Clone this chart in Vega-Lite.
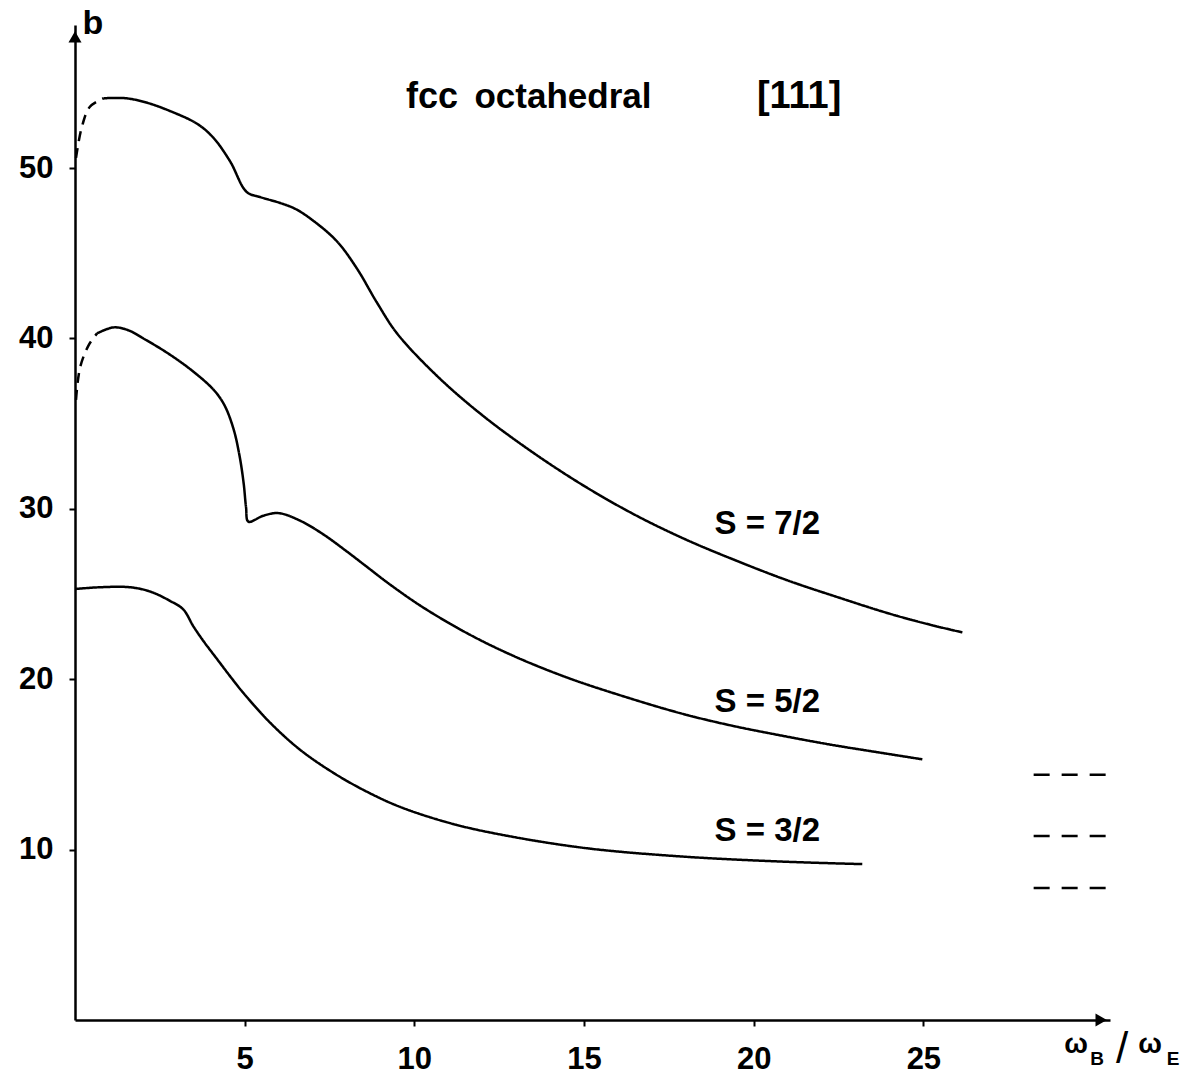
{
  "$schema": "https://vega.github.io/schema/vega-lite/v6.json",
  "width": 1035,
  "height": 995,
  "autosize": "none",
  "padding": {"left": 75, "top": 25, "right": 87, "bottom": 57},
  "background": "white",
  "config": {
    "view": {"stroke": null},
    "font": "Liberation Sans",
    "axis": {
      "domainColor": "black", "domainWidth": 2.5,
      "tickColor": "black", "tickWidth": 2, "tickSize": 6,
      "labelFont": "Liberation Sans", "labelFontSize": 31, "labelFontWeight": "bold", "labelColor": "black",
      "grid": false, "title": null
    }
  },
  "datasets": {
    "curves": [
      {"S": "7/2", "part": "dashed", "x": 0.03, "b": 50.6},
      {"S": "7/2", "part": "dashed", "x": 0.2, "b": 52.4},
      {"S": "7/2", "part": "dashed", "x": 0.44, "b": 53.6},
      {"S": "7/2", "part": "dashed", "x": 0.85, "b": 54.1},
      {"S": "7/2", "part": "solid", "x": 0.85, "b": 54.1},
      {"S": "7/2", "part": "solid", "x": 1.5, "b": 54.1},
      {"S": "7/2", "part": "solid", "x": 2.1, "b": 53.85},
      {"S": "7/2", "part": "solid", "x": 2.8, "b": 53.35},
      {"S": "7/2", "part": "solid", "x": 3.6, "b": 52.6},
      {"S": "7/2", "part": "solid", "x": 4.07, "b": 51.8},
      {"S": "7/2", "part": "solid", "x": 4.57, "b": 50.4},
      {"S": "7/2", "part": "solid", "x": 5.06, "b": 48.6},
      {"S": "7/2", "part": "solid", "x": 5.46, "b": 48.3},
      {"S": "7/2", "part": "solid", "x": 6.05, "b": 47.95},
      {"S": "7/2", "part": "solid", "x": 6.5, "b": 47.6},
      {"S": "7/2", "part": "solid", "x": 7.03, "b": 46.9},
      {"S": "7/2", "part": "solid", "x": 7.72, "b": 45.7},
      {"S": "7/2", "part": "solid", "x": 8.31, "b": 44.1},
      {"S": "7/2", "part": "solid", "x": 8.9, "b": 42.1},
      {"S": "7/2", "part": "solid", "x": 9.49, "b": 40.3},
      {"S": "7/2", "part": "solid", "x": 10.67, "b": 37.8},
      {"S": "7/2", "part": "solid", "x": 12.0, "b": 35.5},
      {"S": "7/2", "part": "solid", "x": 13.5, "b": 33.3},
      {"S": "7/2", "part": "solid", "x": 15.0, "b": 31.35},
      {"S": "7/2", "part": "solid", "x": 16.5, "b": 29.65},
      {"S": "7/2", "part": "solid", "x": 18.0, "b": 28.2},
      {"S": "7/2", "part": "solid", "x": 19.5, "b": 26.95},
      {"S": "7/2", "part": "solid", "x": 21.0, "b": 25.8},
      {"S": "7/2", "part": "solid", "x": 22.5, "b": 24.8},
      {"S": "7/2", "part": "solid", "x": 24.0, "b": 23.85},
      {"S": "7/2", "part": "solid", "x": 25.2, "b": 23.2},
      {"S": "7/2", "part": "solid", "x": 26.15, "b": 22.75},

      {"S": "5/2", "part": "dashed", "x": 0.03, "b": 36.4},
      {"S": "5/2", "part": "dashed", "x": 0.15, "b": 38.3},
      {"S": "5/2", "part": "dashed", "x": 0.4, "b": 39.6},
      {"S": "5/2", "part": "dashed", "x": 0.65, "b": 40.3},
      {"S": "5/2", "part": "solid", "x": 0.65, "b": 40.3},
      {"S": "5/2", "part": "solid", "x": 1.13, "b": 40.65},
      {"S": "5/2", "part": "solid", "x": 1.55, "b": 40.5},
      {"S": "5/2", "part": "solid", "x": 2.06, "b": 39.95},
      {"S": "5/2", "part": "solid", "x": 2.8, "b": 39.05},
      {"S": "5/2", "part": "solid", "x": 3.49, "b": 38.05},
      {"S": "5/2", "part": "solid", "x": 4.08, "b": 37.0},
      {"S": "5/2", "part": "solid", "x": 4.4, "b": 36.1},
      {"S": "5/2", "part": "solid", "x": 4.67, "b": 34.7},
      {"S": "5/2", "part": "solid", "x": 4.85, "b": 33.1},
      {"S": "5/2", "part": "solid", "x": 4.97, "b": 31.5},
      {"S": "5/2", "part": "solid", "x": 5.04, "b": 30.1},
      {"S": "5/2", "part": "solid", "x": 5.11, "b": 29.25},
      {"S": "5/2", "part": "solid", "x": 5.55, "b": 29.6},
      {"S": "5/2", "part": "solid", "x": 6.0, "b": 29.75},
      {"S": "5/2", "part": "solid", "x": 6.64, "b": 29.3},
      {"S": "5/2", "part": "solid", "x": 7.32, "b": 28.5},
      {"S": "5/2", "part": "solid", "x": 8.01, "b": 27.5},
      {"S": "5/2", "part": "solid", "x": 8.6, "b": 26.6},
      {"S": "5/2", "part": "solid", "x": 9.29, "b": 25.55},
      {"S": "5/2", "part": "solid", "x": 10.27, "b": 24.2},
      {"S": "5/2", "part": "solid", "x": 11.65, "b": 22.6},
      {"S": "5/2", "part": "solid", "x": 13.0, "b": 21.3},
      {"S": "5/2", "part": "solid", "x": 14.5, "b": 20.1},
      {"S": "5/2", "part": "solid", "x": 16.0, "b": 19.1},
      {"S": "5/2", "part": "solid", "x": 17.85, "b": 18.0},
      {"S": "5/2", "part": "solid", "x": 19.3, "b": 17.3},
      {"S": "5/2", "part": "solid", "x": 20.8, "b": 16.7},
      {"S": "5/2", "part": "solid", "x": 22.3, "b": 16.15},
      {"S": "5/2", "part": "solid", "x": 23.7, "b": 15.7},
      {"S": "5/2", "part": "solid", "x": 24.97, "b": 15.3},

      {"S": "3/2", "part": "solid", "x": 0.03, "b": 25.3},
      {"S": "3/2", "part": "solid", "x": 0.74, "b": 25.4},
      {"S": "3/2", "part": "solid", "x": 1.62, "b": 25.4},
      {"S": "3/2", "part": "solid", "x": 2.21, "b": 25.15},
      {"S": "3/2", "part": "solid", "x": 2.8, "b": 24.6},
      {"S": "3/2", "part": "solid", "x": 3.19, "b": 24.1},
      {"S": "3/2", "part": "solid", "x": 3.49, "b": 23.1},
      {"S": "3/2", "part": "solid", "x": 3.8, "b": 22.2},
      {"S": "3/2", "part": "solid", "x": 4.18, "b": 21.2},
      {"S": "3/2", "part": "solid", "x": 4.6, "b": 20.1},
      {"S": "3/2", "part": "solid", "x": 4.96, "b": 19.2},
      {"S": "3/2", "part": "solid", "x": 5.75, "b": 17.45},
      {"S": "3/2", "part": "solid", "x": 6.64, "b": 15.85},
      {"S": "3/2", "part": "solid", "x": 7.62, "b": 14.5},
      {"S": "3/2", "part": "solid", "x": 8.6, "b": 13.4},
      {"S": "3/2", "part": "solid", "x": 9.59, "b": 12.5},
      {"S": "3/2", "part": "solid", "x": 11.06, "b": 11.55},
      {"S": "3/2", "part": "solid", "x": 12.5, "b": 10.9},
      {"S": "3/2", "part": "solid", "x": 15.0, "b": 10.1},
      {"S": "3/2", "part": "solid", "x": 17.85, "b": 9.6},
      {"S": "3/2", "part": "solid", "x": 20.8, "b": 9.3},
      {"S": "3/2", "part": "solid", "x": 23.2, "b": 9.15}
    ],
    "limits": [
      {"S": "7/2", "b": 14.4},
      {"S": "5/2", "b": 10.8},
      {"S": "3/2", "b": 7.75}
    ]
  },
  "layer": [
    {
      "data": {"name": "curves"},
      "mark": {"type": "line", "interpolate": "catmull-rom", "color": "black", "strokeWidth": 2.5},
      "encoding": {
        "x": {"field": "x", "type": "quantitative", "scale": {"domain": [0, 30.5], "nice": false, "zero": false},
              "axis": {"values": [5, 10, 15, 20, 25], "labelPadding": 18}},
        "y": {"field": "b", "type": "quantitative", "scale": {"domain": [0, 58.4], "nice": false, "zero": false},
              "axis": {"values": [10, 20, 30, 40, 50], "labelPadding": 16}},
        "detail": {"field": "S"},
        "strokeDash": {"field": "part", "type": "nominal",
                       "scale": {"domain": ["solid", "dashed"], "range": [[1, 0], [10, 7]]}, "legend": null}
      }
    },
    {
      "data": {"name": "limits"},
      "mark": {"type": "rule", "color": "black", "strokeWidth": 2.5, "strokeDash": [16, 12]},
      "encoding": {
        "y": {"field": "b", "type": "quantitative"},
        "x": {"datum": 28.25},
        "x2": {"datum": 30.4}
      }
    },
    {
      "data": {"values": [{}]},
      "mark": {"type": "point", "shape": "triangle-up", "filled": true, "color": "black", "size": 170, "opacity": 1},
      "encoding": {"x": {"datum": 0}, "y": {"datum": 57.7}}
    },
    {
      "data": {"values": [{}]},
      "mark": {"type": "point", "shape": "triangle-right", "filled": true, "color": "black", "size": 170, "opacity": 1},
      "encoding": {"x": {"datum": 30.24}, "y": {"datum": 0}}
    },
    {
      "data": {"values": [{}]},
      "mark": {"type": "text", "text": "b", "fontSize": 34, "fontWeight": "bold", "font": "Liberation Sans", "align": "center", "baseline": "alphabetic", "color": "black"},
      "encoding": {"x": {"datum": 0.53}, "y": {"datum": 57.9}}
    },
    {
      "data": {"values": [{}]},
      "mark": {"type": "text", "text": "fcc", "fontSize": 36, "fontWeight": "bold", "font": "Liberation Sans", "align": "center", "baseline": "alphabetic", "color": "black", "letterSpacing": 4},
      "encoding": {"x": {"datum": 10.52}, "y": {"datum": 53.5}}
    },
    {
      "data": {"values": [{}]},
      "mark": {"type": "text", "text": "octahedral", "fontSize": 35, "fontWeight": "bold", "font": "Liberation Sans", "align": "center", "baseline": "alphabetic", "color": "black"},
      "encoding": {"x": {"datum": 14.38}, "y": {"datum": 53.5}}
    },
    {
      "data": {"values": [{}]},
      "mark": {"type": "text", "text": "[111]", "fontSize": 38, "fontWeight": "bold", "font": "Liberation Sans", "align": "center", "baseline": "alphabetic", "color": "black"},
      "encoding": {"x": {"datum": 21.34}, "y": {"datum": 53.5}}
    },
    {
      "data": {"values": [{"t": "S = 7/2", "x": 20.4, "b": 28.5}, {"t": "S = 5/2", "x": 20.4, "b": 18.1}, {"t": "S = 3/2", "x": 20.4, "b": 10.5}]},
      "mark": {"type": "text", "fontSize": 33, "fontWeight": "bold", "font": "Liberation Sans", "align": "center", "baseline": "alphabetic", "color": "black"},
      "encoding": {"x": {"field": "x", "type": "quantitative"}, "y": {"field": "b", "type": "quantitative"}, "text": {"field": "t"}}
    },
    {
      "data": {"values": [{}]},
      "mark": {"type": "text", "text": "ω", "fontSize": 28, "fontWeight": "bold", "font": "Liberation Sans", "align": "center", "baseline": "alphabetic", "color": "black"},
      "encoding": {"x": {"datum": 29.5}, "y": {"datum": -1.94}}
    },
    {
      "data": {"values": [{}]},
      "mark": {"type": "text", "text": "B", "fontSize": 19, "fontWeight": "bold", "font": "Liberation Sans", "align": "center", "baseline": "alphabetic", "color": "black"},
      "encoding": {"x": {"datum": 30.12}, "y": {"datum": -2.64}}
    },
    {
      "data": {"values": [{}]},
      "mark": {"type": "text", "text": "/", "fontSize": 44, "font": "Liberation Sans", "align": "center", "baseline": "alphabetic", "color": "black"},
      "encoding": {"x": {"datum": 30.86}, "y": {"datum": -2.5}}
    },
    {
      "data": {"values": [{}]},
      "mark": {"type": "text", "text": "ω", "fontSize": 28, "fontWeight": "bold", "font": "Liberation Sans", "align": "center", "baseline": "alphabetic", "color": "black"},
      "encoding": {"x": {"datum": 31.68}, "y": {"datum": -1.94}}
    },
    {
      "data": {"values": [{}]},
      "mark": {"type": "text", "text": "E", "fontSize": 19, "fontWeight": "bold", "font": "Liberation Sans", "align": "center", "baseline": "alphabetic", "color": "black"},
      "encoding": {"x": {"datum": 32.36}, "y": {"datum": -2.64}}
    }
  ]
}
